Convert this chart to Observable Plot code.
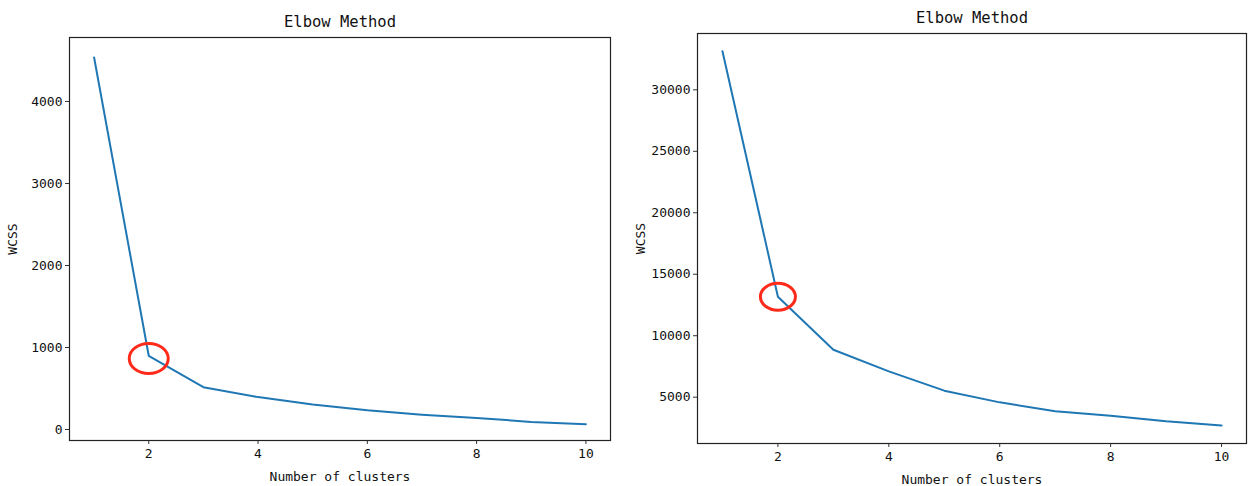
<!DOCTYPE html>
<html>
<head>
<meta charset="utf-8">
<script src="https://cdn.jsdelivr.net/npm/d3@7"></script>
<script src="https://cdn.jsdelivr.net/npm/@observablehq/plot@0.6"></script>
<style>
  body { margin: 0; background: #fff; }
  #wrap { display: flex; width: 1248px; height: 486px; }
</style>
</head>
<body>
<div id="wrap"><div id="a"></div><div id="b"></div></div>
<script>
// ---- data ----
const clusters = [1, 2, 3, 4, 5, 6, 7, 8, 9, 10];
const wcssLeft = [4536, 899, 516, 395, 306, 234, 181, 141, 93, 65];
const wcssRight = [33144, 13170, 8862, 7100, 5530, 4580, 3850, 3500, 3040, 2690];
const xTicks = [2, 4, 6, 8, 10];
const yTicksLeft = [0, 1000, 2000, 3000, 4000];
const yTicksRight = [5000, 10000, 15000, 20000, 25000, 30000];
const elbowX = [2];
const elbowLeftY = [866];
const elbowRightY = [13172];
const titleText = "Elbow Method";
const xLabel = "Number of clusters";
const yLabel = "WCSS";

const font = "'DejaVu Sans Mono', 'Liberation Mono', monospace";

const ellipse = {
  draw(ctx, size) {
    const rx = Math.sqrt(size / Math.PI);
    const ry = rx * 0.77;
    const k = 0.5523;
    ctx.moveTo(rx, 0);
    ctx.bezierCurveTo(rx, ry * k, rx * k, ry, 0, ry);
    ctx.bezierCurveTo(-rx * k, ry, -rx, ry * k, -rx, 0);
    ctx.bezierCurveTo(-rx, -ry * k, -rx * k, -ry, 0, -ry);
    ctx.bezierCurveTo(rx * k, -ry, rx, -ry * k, rx, 0);
    ctx.closePath();
  }
};

function chart({width, margins, yDomain, yTicks, values, elbowY, r}) {
  const rows = clusters.map((c, i) => ({k: c, w: values[i]}));
  const elbow = elbowX.map((x, i) => ({k: x, w: elbowY[i]}));
  return Plot.plot({
    width, height: 486,
    marginLeft: margins[0], marginRight: margins[1], marginTop: margins[2], marginBottom: margins[3],
    style: {fontFamily: font, fontSize: "13px", color: "#111", background: "#fff"},
    x: {domain: [0.55, 10.45]},
    y: {domain: yDomain},
    marks: [
      Plot.axisX({ticks: xTicks, tickSize: 4, tickPadding: 4, tickFormat: d => String(d),
        label: xLabel, labelAnchor: "center", labelArrow: "none", labelOffset: 40, stroke: "#333"}),
      Plot.axisY({ticks: yTicks, tickSize: 4, tickPadding: 3, tickFormat: d => String(d),
        label: yLabel, labelAnchor: "center", labelArrow: "none", labelOffset: 62, stroke: "#333"}),
      Plot.frame({stroke: "#222", strokeWidth: 1.2}),
      Plot.line(rows, {x: "k", y: "w", stroke: "#1f77b4", strokeWidth: 2}),
      Plot.dot(elbow, {x: "k", y: "w", r, symbol: ellipse, stroke: "#ff2a1a", strokeWidth: 3, fill: "none"}),
      Plot.text([titleText], {frameAnchor: "top", lineAnchor: "bottom", dy: -11, fontSize: 15.5, fill: "#111"})
    ]
  });
}

document.getElementById("a").append(chart({
  width: 620, margins: [69, 10, 37, 46], yDomain: [-134, 4780], yTicks: yTicksLeft,
  values: wcssLeft, elbowY: elbowLeftY, r: 19.5
}));
document.getElementById("b").append(chart({
  width: 628, margins: [77, 2, 33, 43], yDomain: [1234, 34580], yTicks: yTicksRight,
  values: wcssRight, elbowY: elbowRightY, r: 17.5
}));
</script>
</body>
</html>
